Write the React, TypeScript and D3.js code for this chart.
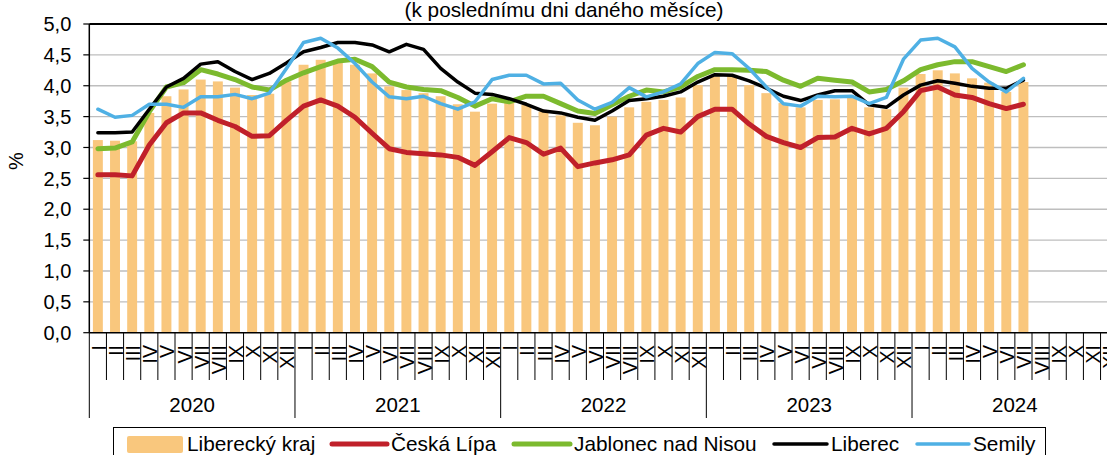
import { useEffect, useRef } from "react";
import * as d3 from "d3";

const months = ["I", "II", "III", "IV", "V", "VI", "VII", "VIII", "IX", "X", "XI", "XII"];
const years = ["2020", "2021", "2022", "2023", "2024"];

// Liberecký kraj (sloupce), I/2020 – VII/2024
const libereckyKraj = [
  3.12, 3.11, 3.10, 3.56, 3.83, 3.94, 4.10, 4.07, 3.97, 3.85, 3.87, 4.07,
  4.34, 4.42, 4.37, 4.34, 4.20, 3.99, 3.93, 3.88, 3.83, 3.70, 3.58, 3.71,
  3.77, 3.69, 3.58, 3.52, 3.40, 3.36, 3.50, 3.65, 3.74, 3.77, 3.81, 4.01,
  4.15, 4.16, 4.01, 3.88, 3.72, 3.65, 3.77, 3.78, 3.81, 3.65, 3.62, 3.97,
  4.19, 4.25, 4.20, 4.12, 4.05, 3.90, 4.06,
];
const ceskaLipa = [
  2.56, 2.56, 2.54, 3.04, 3.40, 3.56, 3.56, 3.44, 3.34, 3.18, 3.19, 3.44,
  3.67, 3.77, 3.67, 3.49, 3.23, 2.98, 2.92, 2.90, 2.88, 2.84, 2.71, 2.93,
  3.16, 3.08, 2.89, 2.99, 2.69, 2.75, 2.80, 2.88, 3.20, 3.31, 3.25, 3.50,
  3.62, 3.62, 3.38, 3.18, 3.08, 3.00, 3.16, 3.17, 3.31, 3.22, 3.31, 3.58,
  3.92, 3.98, 3.85, 3.81, 3.71, 3.63, 3.70,
];
const jablonec = [
  2.98, 2.99, 3.09, 3.58, 3.98, 4.05, 4.26, 4.19, 4.10, 3.98, 3.93, 4.09,
  4.21, 4.31, 4.40, 4.43, 4.31, 4.06, 3.98, 3.94, 3.92, 3.81, 3.67, 3.79,
  3.74, 3.83, 3.83, 3.71, 3.59, 3.55, 3.69, 3.83, 3.93, 3.90, 3.98, 4.15,
  4.26, 4.26, 4.25, 4.23, 4.09, 3.99, 4.12, 4.09, 4.06, 3.90, 3.94, 4.08,
  4.26, 4.34, 4.39, 4.39, 4.31, 4.23, 4.34,
];
const liberec = [
  3.24, 3.24, 3.25, 3.62, 3.98, 4.12, 4.35, 4.39, 4.23, 4.10, 4.20, 4.37,
  4.55, 4.62, 4.70, 4.70, 4.66, 4.55, 4.67, 4.59, 4.28, 4.06, 3.88, 3.86,
  3.79, 3.70, 3.59, 3.56, 3.49, 3.44, 3.59, 3.76, 3.79, 3.83, 3.90, 4.06,
  4.18, 4.17, 4.08, 3.96, 3.83, 3.76, 3.85, 3.92, 3.92, 3.69, 3.65, 3.85,
  4.01, 4.08, 4.04, 3.99, 3.96, 3.96, 4.09,
];
const semily = [
  3.62, 3.49, 3.52, 3.70, 3.70, 3.65, 3.82, 3.82, 3.86, 3.79, 3.88, 4.28,
  4.70, 4.77, 4.61, 4.36, 4.06, 3.82, 3.79, 3.83, 3.71, 3.62, 3.74, 4.10,
  4.17, 4.17, 4.03, 4.04, 3.77, 3.62, 3.73, 3.97, 3.82, 3.90, 4.03, 4.36,
  4.54, 4.52, 4.28, 3.98, 3.71, 3.67, 3.83, 3.82, 3.83, 3.71, 3.81, 4.43,
  4.74, 4.77, 4.63, 4.28, 4.06, 3.90, 4.12,
];
const yTicks = [0, 0.5, 1, 1.5, 2, 2.5, 3, 3.5, 4, 4.5, 5];

const lineSeries = [
  { name: "Česká Lípa", values: ceskaLipa, color: "#C0202A", width: 5 },
  { name: "Jablonec nad Nisou", values: jablonec, color: "#7CBA2E", width: 5 },
  { name: "Liberec", values: liberec, color: "#000000", width: 3.5 },
  { name: "Semily", values: semily, color: "#4FB0E4", width: 3.5 },
];

const BAR_COLOR = "#F9C77D";
const FONT = "'Liberation Sans', Arial, sans-serif";

export default function App() {
  const ref = useRef(null);
  const W = 1107, H = 455;
  const left = 89.3, top = 24, bottom = 332.7, slot = 17.14;

  useEffect(() => {
    const svg = d3.select(ref.current);
    svg.selectAll("*").remove();

    const keys = d3.range(years.length * months.length).map(String);
    const x = d3.scaleBand()
      .domain(keys)
      .range([left, left + keys.length * slot])
      .paddingInner(0.42)
      .paddingOuter(0.21);
    const cx = (i) => x(String(i)) + x.bandwidth() / 2;
    const y = d3.scaleLinear().domain([0, 5]).range([bottom, top]);

    // title (cut off at the top, as in the source)
    svg.append("text")
      .attr("x", 564).attr("y", 16.5)
      .attr("text-anchor", "middle")
      .style("font-size", "20.8px")
      .text("(k poslednímu dni daného měsíce)");

    // gridlines
    svg.append("g").selectAll("line")
      .data(yTicks.filter(d => d > 0 && d < 5))
      .join("line")
      .attr("x1", left).attr("x2", W)
      .attr("y1", d => y(d)).attr("y2", d => y(d))
      .attr("stroke", "#BEBEBE").attr("stroke-width", 1.4);

    // bars
    svg.append("g").selectAll("rect")
      .data(libereckyKraj)
      .join("rect")
      .attr("x", (d, i) => x(String(i)))
      .attr("width", x.bandwidth())
      .attr("y", d => y(d))
      .attr("height", d => y(0) - y(d))
      .attr("fill", BAR_COLOR);

    // lines
    const line = d3.line().x((d, i) => cx(i)).y(d => y(d));
    lineSeries.forEach(s => {
      svg.append("path")
        .attr("d", line(s.values))
        .attr("fill", "none")
        .attr("stroke", s.color)
        .attr("stroke-width", s.width)
        .attr("stroke-linejoin", "round")
        .attr("stroke-linecap", "round");
    });

    // frame
    svg.append("line")
      .attr("x1", left).attr("x2", W).attr("y1", top).attr("y2", top)
      .attr("stroke", "#000").attr("stroke-width", 2);

    // y axis
    const yAxis = svg.append("g").attr("transform", `translate(${left},0)`);
    yAxis.append("line")
      .attr("y1", top).attr("y2", bottom)
      .attr("stroke", "#000").attr("stroke-width", 1.5);
    yTicks.forEach(t => {
      yAxis.append("line")
        .attr("x1", -6).attr("x2", 0)
        .attr("y1", y(t)).attr("y2", y(t))
        .attr("stroke", "#000").attr("stroke-width", 1.2);
      yAxis.append("text")
        .attr("x", -18).attr("y", y(t))
        .attr("dy", "0.36em")
        .attr("text-anchor", "end")
        .style("font-size", "20px")
        .text(d3.format(".1f")(t).replace(".", ","));
    });
    svg.append("text")
      .attr("transform", `translate(23,161) rotate(-90)`)
      .attr("text-anchor", "middle")
      .style("font-size", "20px")
      .text("%");

    // x axis
    const xAxis = svg.append("g");
    xAxis.append("line")
      .attr("x1", left).attr("x2", W).attr("y1", bottom).attr("y2", bottom)
      .attr("stroke", "#000").attr("stroke-width", 1.5);
    keys.forEach((k, i) => {
      xAxis.append("text")
        .attr("transform", `translate(${cx(i) + 1},345) rotate(-90)`)
        .attr("dy", "0.36em")
        .attr("text-anchor", "end")
        .style("font-size", "19.5px")
        .text(months[i % 12]);
    });
    d3.range(keys.length + 1).forEach(i => {
      const xx = left + i * slot;
      xAxis.append("line")
        .attr("x1", xx).attr("x2", xx)
        .attr("y1", bottom).attr("y2", i % 12 === 0 ? 418 : 380)
        .attr("stroke", "#000").attr("stroke-width", 1);
    });
    years.forEach((yr, j) => {
      xAxis.append("text")
        .attr("x", left + (j * 12 + 6) * slot)
        .attr("y", 412)
        .attr("text-anchor", "middle")
        .style("font-size", "20.5px")
        .text(yr);
    });

    // legend
    const lg = svg.append("g");
    lg.append("rect")
      .attr("x", 113.5).attr("y", 427.5)
      .attr("width", 932).attr("height", 40)
      .attr("fill", "#fff").attr("stroke", "#000").attr("stroke-width", 1);
    lg.append("rect")
      .attr("x", 127).attr("y", 436)
      .attr("width", 56).attr("height", 17).attr("rx", 2)
      .attr("fill", BAR_COLOR);
    lg.append("text")
      .attr("x", 187).attr("y", 451)
      .style("font-size", "20.8px")
      .text("Liberecký kraj");
    const legendPos = [
      { x1: 332, x2: 387 },
      { x1: 514, x2: 570 },
      { x1: 774, x2: 827 },
      { x1: 917, x2: 969 },
    ];
    lineSeries.forEach((s, i) => {
      const p = legendPos[i];
      lg.append("line")
        .attr("x1", p.x1).attr("x2", p.x2)
        .attr("y1", 444).attr("y2", 444)
        .attr("stroke", s.color)
        .attr("stroke-width", s.width)
        .attr("stroke-linecap", "round");
      lg.append("text")
        .attr("x", p.x2 + 4).attr("y", 451)
        .style("font-size", "20.8px")
        .text(s.name);
    });
  }, []);

  return (
    <svg
      ref={ref}
      width={W}
      height={H}
      style={{ position: "absolute", left: 0, top: 0, fontFamily: FONT, background: "#fff" }}
    />
  );
}
